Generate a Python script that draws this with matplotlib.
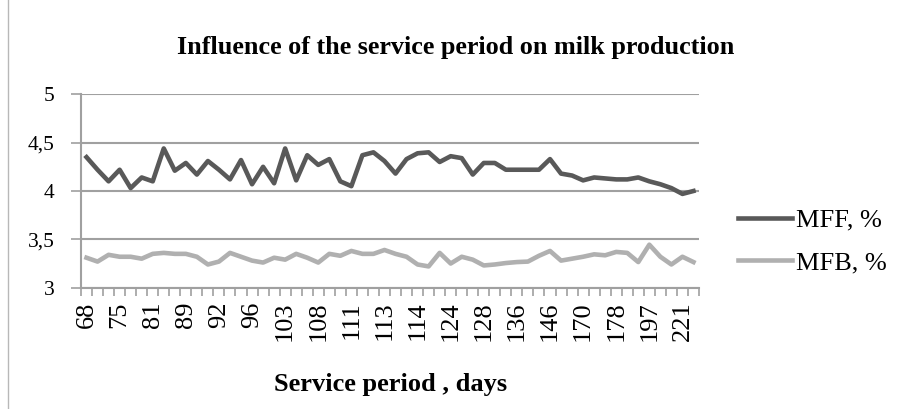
import numpy as np
import matplotlib.pyplot as plt
from matplotlib.lines import Line2D

plt.rcParams['font.family'] = ['Liberation Serif', 'DejaVu Serif']

# labels shown on the axis (every third service-period group)
shown_labels = ['68', '75', '81', '89', '92', '96', '103', '108', '111', '113',
                '114', '124', '128', '136', '146', '170', '178', '197', '221']
label_step = 3

mff = [4.35, 4.22, 4.10, 4.22, 4.03, 4.14, 4.10, 4.44, 4.21, 4.29,
       4.17, 4.31, 4.22, 4.12, 4.32, 4.07, 4.25, 4.08, 4.44, 4.11,
       4.37, 4.27, 4.33, 4.10, 4.05, 4.37, 4.40, 4.31, 4.18, 4.33,
       4.39, 4.40, 4.30, 4.36, 4.34, 4.17, 4.29, 4.29, 4.22, 4.22,
       4.22, 4.22, 4.33, 4.18, 4.16, 4.11, 4.14, 4.13, 4.12, 4.12,
       4.14, 4.10, 4.07, 4.03, 3.97, 4.00]
mfb = [3.31, 3.27, 3.34, 3.32, 3.32, 3.30, 3.35, 3.36, 3.35, 3.35,
       3.32, 3.24, 3.27, 3.36, 3.32, 3.28, 3.26, 3.31, 3.29, 3.35,
       3.31, 3.26, 3.35, 3.33, 3.38, 3.35, 3.35, 3.39, 3.35, 3.32,
       3.24, 3.22, 3.36, 3.25, 3.32, 3.29, 3.23, 3.24, 3.255, 3.265,
       3.27, 3.33, 3.38, 3.28, 3.30, 3.32, 3.345, 3.335, 3.37, 3.36,
       3.265, 3.445, 3.32, 3.24, 3.32, 3.265]

grid_col = '#A0A0A0'

fig = plt.figure(figsize=(9.06, 4.09), dpi=100)
# left edge of the chart frame
fig.add_artist(Line2D([7.5 / 906, 7.5 / 906], [0, 1], transform=fig.transFigure,
                      color='#B8B8B8', linewidth=1))
ax = fig.add_axes([0.0894, 0.2966, 0.6821, 0.4728])

x = np.arange(len(mff))
ax.plot(x, mff, color='#595959', linewidth=3.3, label='MFF, %', solid_joinstyle='round')
ax.plot(x, mfb, color='#B0B0B0', linewidth=3.3, label='MFB, %', solid_joinstyle='round')

ax.set_xlim(-0.5, len(mff) - 0.5)
ax.set_ylim(3, 5)
ax.set_yticks([3, 3.5, 4, 4.5, 5])
ax.set_yticklabels(['3', '3,5', '4', '4,5', '5'], fontsize=15.5)
ax.yaxis.grid(True, color=grid_col, linewidth=1.5)
ax.set_axisbelow(True)

ax.set_xticks(x[::label_step])
ax.set_xticklabels(shown_labels, rotation=90, fontsize=19, va='top')
ax.set_xticks(np.arange(-0.5, len(mff)), minor=True)
ax.tick_params(axis='x', which='major', length=0, pad=10)
ax.tick_params(axis='x', which='minor', length=6, color=grid_col, width=1.2, direction='out')
ax.tick_params(axis='y', length=7, color=grid_col, width=1.2, pad=12)

for s in ['top', 'right']:
    ax.spines[s].set_visible(False)
for s in ['left', 'bottom']:
    ax.spines[s].set_color(grid_col)
    ax.spines[s].set_linewidth(1.5)

fig.text(0.4316, 0.061, 'Service period , days', fontsize=19, fontweight='bold',
         ha='center', va='center')
fig.text(0.503, 0.885, 'Influence of the service period on milk production',
         fontsize=18.8, fontweight='bold', ha='center', va='center')

ax.legend(loc='center left', bbox_to_anchor=(0.8146, 0.41), bbox_transform=fig.transFigure,
          frameon=False, fontsize=19, handlelength=2.05, handletextpad=0.15,
          labelspacing=0.72, borderpad=0, borderaxespad=0)

fig.savefig('out.png', dpi=100)
